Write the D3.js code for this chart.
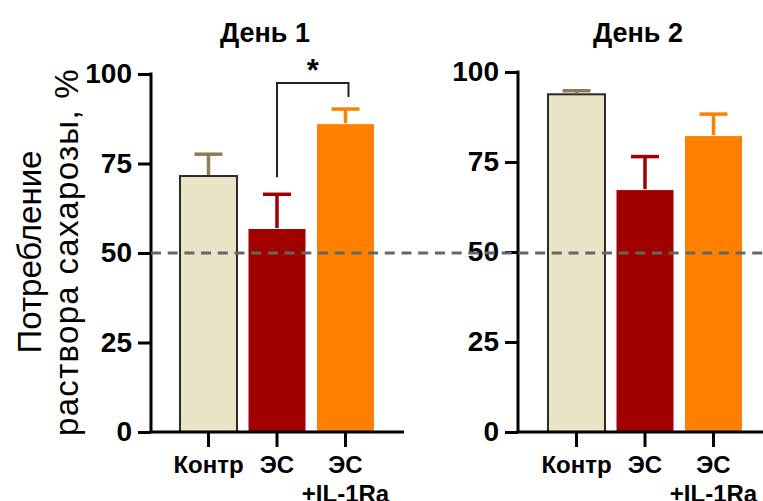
<!DOCTYPE html>
<html>
<head>
<meta charset="utf-8">
<script src="https://cdn.jsdelivr.net/npm/d3@7"></script>
<style>
  body { margin: 0; background: #fff; }
  svg { display: block; font-family: "Liberation Sans", Arial, sans-serif; }
</style>
</head>
<body>
<svg id="chart" width="763" height="501"></svg>
<script>
// data
var groups = ['Контр', 'ЭС', 'ЭС\n+IL-1Ra'];
var day1Mean = [71.5, 56.7, 86.0];
var day1Sem = [6.1, 9.7, 4.2];
var day2Mean = [93.8, 67.2, 82.2];
var day2Sem = [1.0, 9.3, 6.1];
var yTicks = [0, 25, 50, 75, 100];
var titles = ['День 1', 'День 2'];

var fills = ['#EAE4C7', '#A00000', '#FF8000'];
var errColors = ['#8A7F55', '#A00000', '#FF8000'];

var svg = d3.select('#chart');

var panels = [
    {title: titles[0], mean: day1Mean, sem: day1Sem, axisX: 151, xEnd: 404, barL: 180, barR: 374, top: 74, titleX: 265},
    {title: titles[1], mean: day2Mean, sem: day2Sem, axisX: 518, xEnd: 763, barL: 548, barR: 742, top: 72, titleX: 638}
];
var baseY = 432;

var yLeft;

panels.forEach(function (p, pi) {
    var y = d3.scaleLinear().domain([0, 100]).range([baseY, p.top]);
    if (pi === 0) yLeft = y;
    var x = d3.scaleBand().domain(groups).range([p.barL, p.barR]).paddingInner(0.168).paddingOuter(0);

    var g = svg.append('g').attr('class', 'panel');

    // title
    g.append('text')
        .attr('x', p.titleX)
        .attr('y', 42)
        .attr('text-anchor', 'middle')
        .style('font-size', '27px')
        .style('font-weight', 'bold')
        .text(p.title);

    // bars
    g.selectAll('rect.bar')
        .data(groups)
        .enter()
        .append('rect')
        .attr('class', 'bar')
        .attr('x', function (d) { return x(d); })
        .attr('width', x.bandwidth())
        .attr('y', function (d, i) { return y(p.mean[i]); })
        .attr('height', function (d, i) { return baseY - y(p.mean[i]); })
        .style('fill', function (d, i) { return fills[i]; })
        .style('stroke', function (d, i) { return i === 0 ? '#2b2b2b' : 'none'; })
        .style('stroke-width', 2);

    // error bars (upper only)
    var eb = g.selectAll('g.err')
        .data(groups)
        .enter()
        .append('g')
        .attr('class', 'err')
        .style('stroke', function (d, i) { return errColors[i]; })
        .style('stroke-width', 3.5);

    eb.append('line')
        .attr('x1', function (d) { return x(d) + x.bandwidth() / 2; })
        .attr('x2', function (d) { return x(d) + x.bandwidth() / 2; })
        .attr('y1', function (d, i) { return y(p.mean[i]) - 1; })
        .attr('y2', function (d, i) { return y(p.mean[i] + p.sem[i]); });

    eb.append('line')
        .attr('x1', function (d) { return x(d) + x.bandwidth() / 2 - 14; })
        .attr('x2', function (d) { return x(d) + x.bandwidth() / 2 + 14; })
        .attr('y1', function (d, i) { return y(p.mean[i] + p.sem[i]); })
        .attr('y2', function (d, i) { return y(p.mean[i] + p.sem[i]); });

    // y axis
    var yAxis = d3.axisLeft(y)
        .tickValues(yTicks)
        .tickSize(13)
        .tickSizeOuter(0)
        .tickPadding(6);

    var ya = g.append('g')
        .attr('transform', 'translate(' + p.axisX + ',0)')
        .call(yAxis);
    ya.select('.domain').remove();
    ya.selectAll('line').style('stroke', '#000').style('stroke-width', 3);
    ya.selectAll('text')
        .style('font-size', '28px')
        .style('font-weight', 'bold')
        .style('fill', '#000');

    g.append('line')
        .attr('x1', p.axisX).attr('x2', p.axisX)
        .attr('y1', y(100) - 1.5).attr('y2', baseY)
        .style('stroke', '#000').style('stroke-width', 3);

    // x axis
    g.append('line')
        .attr('x1', p.axisX - 1.5).attr('x2', p.xEnd)
        .attr('y1', baseY).attr('y2', baseY)
        .style('stroke', '#000').style('stroke-width', 3);

    var xAxis = d3.axisBottom(x).tickSize(15).tickFormat('');
    var xa = g.append('g')
        .attr('transform', 'translate(0,' + baseY + ')')
        .call(xAxis);
    xa.select('.domain').remove();
    xa.selectAll('line').style('stroke', '#000').style('stroke-width', 3);

    var labels = g.selectAll('text.xlab')
        .data(groups)
        .enter()
        .append('text')
        .attr('class', 'xlab')
        .attr('text-anchor', 'middle')
        .attr('x', function (d) { return x(d) + x.bandwidth() / 2; })
        .attr('y', 473)
        .style('font-size', '24px')
        .style('font-weight', 'bold');

    labels.selectAll('tspan')
        .data(function (d) { return d.split('\n'); })
        .enter()
        .append('tspan')
        .attr('x', function () { return d3.select(this.parentNode).attr('x'); })
        .attr('dy', function (d, i) { return i === 0 ? 0 : 29; })
        .text(function (d) { return d; });

    // significance bracket (day 1: ЭС vs ЭС+IL-1Ra)
    if (pi === 0) {
        var a = 1, b = 2;
        var xa1 = x(groups[a]) + x.bandwidth() / 2;
        var xb1 = x(groups[b]) + x.bandwidth() / 2 + 3;
        var topY = y(97.5);
        var path = d3.path();
        path.moveTo(xa1, y(p.mean[a] + p.sem[a]) - 17);
        path.lineTo(xa1, topY);
        path.lineTo(xb1, topY);
        path.lineTo(xb1, y(p.mean[b] + p.sem[b]) - 12);
        g.append('path')
            .attr('d', path.toString())
            .style('fill', 'none')
            .style('stroke', '#222')
            .style('stroke-width', 2);

        g.append('text')
            .attr('x', (xa1 + xb1) / 2)
            .attr('y', topY - 2)
            .attr('text-anchor', 'middle')
            .style('font-size', '31px')
            .style('font-weight', 'bold')
            .text('*');
    }
});

// 50% reference line across both panels
svg.append('line')
    .attr('x1', 151)
    .attr('x2', 763)
    .attr('y1', yLeft(50))
    .attr('y2', yLeft(50))
    .style('stroke', '#666')
    .style('stroke-width', 3)
    .style('stroke-dasharray', '10,6.7');

// y title
var yt = svg.append('text')
    .attr('transform', 'translate(0,252) rotate(-90)')
    .attr('text-anchor', 'middle')
    .style('font-size', '33px');
yt.append('tspan').attr('x', 0).attr('y', 41).text('Потребление');
yt.append('tspan').attr('x', 0).attr('y', 78)
    .style('letter-spacing', '1.3px')
    .text('раствора сахарозы, %');
</script>
</body>
</html>
